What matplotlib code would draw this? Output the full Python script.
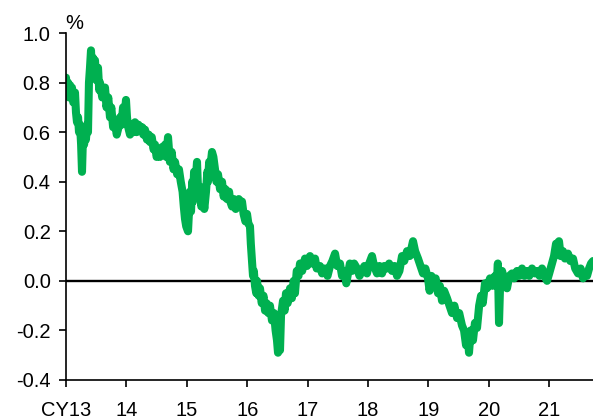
import numpy as np
import matplotlib.pyplot as plt

plt.rcParams['font.family'] = ['Liberation Sans', 'DejaVu Sans']

# years since start of CY13, and value in %
t_off = [0.000, 0.015, 0.033, 0.05, 0.066, 0.085, 0.099, 0.12, 0.149, 0.165, 0.182, 0.2, 0.215, 0.232, 0.25,
         0.265, 0.281, 0.30, 0.315, 0.33, 0.35, 0.364, 0.38, 0.397, 0.414, 0.43, 0.447, 0.46, 0.48, 0.50,
         0.53, 0.55, 0.563, 0.6, 0.646, 0.67, 0.70, 0.728, 0.75, 0.78, 0.811, 0.84, 0.87, 0.894, 0.92,
         0.944, 0.97, 0.993, 1.01, 1.03, 1.06, 1.09, 1.12, 1.142, 1.17, 1.2, 1.225, 1.26, 1.28, 1.308,
         1.34, 1.37, 1.391, 1.42, 1.45, 1.473, 1.50, 1.53, 1.556, 1.59, 1.62, 1.64, 1.66, 1.689, 1.72,
         1.75, 1.78, 1.805, 1.84, 1.87, 1.9, 1.93, 1.95, 1.97, 1.99, 2.02, 2.04, 2.053, 2.07, 2.09,
         2.103, 2.12, 2.14, 2.169, 2.19, 2.219, 2.24, 2.268, 2.29, 2.318, 2.34, 2.351, 2.37, 2.39, 2.417,
         2.44, 2.467, 2.49, 2.517, 2.55, 2.583, 2.61, 2.64, 2.666, 2.7, 2.72, 2.748, 2.78, 2.81, 2.831,
         2.86, 2.89, 2.914, 2.94, 2.97, 2.997, 3.02, 3.046, 3.06, 3.08, 3.096, 3.11, 3.129, 3.15, 3.162,
         3.19, 3.212, 3.24, 3.27, 3.295, 3.32, 3.35, 3.377, 3.41, 3.444, 3.47, 3.493, 3.51, 3.53, 3.543,
         3.56, 3.593, 3.62, 3.642, 3.67, 3.709, 3.74, 3.77, 3.791, 3.82, 3.85, 3.874, 3.91, 3.957, 3.99,
         4.04, 4.07, 4.123, 4.15, 4.205, 4.24, 4.288, 4.33, 4.371, 4.41, 4.454, 4.49, 4.536, 4.57, 4.619,
         4.64, 4.669, 4.70, 4.735, 4.77, 4.818, 4.86, 4.901, 4.94, 4.983, 5.02, 5.066, 5.1, 5.149, 5.19,
         5.232, 5.27, 5.315, 5.35, 5.397, 5.44, 5.48, 5.52, 5.563, 5.6, 5.646, 5.69, 5.745, 5.78, 5.828,
         5.87, 5.911, 5.95, 5.993, 6.02, 6.05, 6.076, 6.12, 6.159, 6.19, 6.225, 6.26, 6.308, 6.35, 6.391,
         6.43, 6.474, 6.51, 6.556, 6.59, 6.623, 6.65, 6.672, 6.70, 6.738, 6.77, 6.805, 6.84, 6.871, 6.9,
         6.937, 6.97, 7.02, 7.06, 7.103, 7.13, 7.15, 7.169, 7.19, 7.219, 7.26, 7.301, 7.34, 7.384, 7.42,
         7.467, 7.5, 7.55, 7.59, 7.632, 7.67, 7.715, 7.76, 7.798, 7.84, 7.881, 7.92, 7.964, 8.0, 8.046,
         8.08, 8.113, 8.14, 8.162, 8.19, 8.228, 8.26, 8.311, 8.35, 8.394, 8.43, 8.477, 8.52, 8.56, 8.6,
         8.626, 8.66, 8.692, 8.725]
vals = [0.82, 0.76, 0.80, 0.74, 0.79, 0.75, 0.78, 0.72, 0.76, 0.68, 0.64, 0.66, 0.60, 0.63, 0.55,
        0.44, 0.58, 0.55, 0.62, 0.57, 0.63, 0.60, 0.80, 0.86, 0.93, 0.84, 0.90, 0.82, 0.89, 0.81,
        0.86, 0.77, 0.80, 0.74, 0.78, 0.70, 0.74, 0.66, 0.70, 0.62, 0.64, 0.59, 0.62, 0.66, 0.63,
        0.70, 0.66, 0.73, 0.66, 0.62, 0.59, 0.63, 0.60, 0.64, 0.60, 0.63, 0.61, 0.62, 0.59, 0.61,
        0.57, 0.59, 0.56, 0.58, 0.53, 0.55, 0.50, 0.52, 0.50, 0.54, 0.51, 0.55, 0.50, 0.58, 0.48,
        0.52, 0.45, 0.48, 0.43, 0.45, 0.40, 0.36, 0.30, 0.25, 0.22, 0.20, 0.30, 0.36, 0.28, 0.40,
        0.32, 0.44, 0.38, 0.48, 0.34, 0.38, 0.30, 0.34, 0.29, 0.36, 0.44, 0.40, 0.48, 0.46, 0.52,
        0.50, 0.45, 0.40, 0.43, 0.37, 0.40, 0.34, 0.37, 0.33, 0.36, 0.32, 0.30, 0.33, 0.29, 0.31,
        0.33, 0.30, 0.32, 0.27, 0.24, 0.27, 0.23, 0.22, 0.15, 0.08, 0.02, 0.04, -0.02, -0.05, 0.00,
        -0.06, -0.03, -0.09, -0.06, -0.12, -0.09, -0.13, -0.10, -0.16, -0.13, -0.20, -0.24, -0.29, -0.22, -0.28,
        -0.14, -0.08, -0.12, -0.05, -0.09, -0.03, -0.07, 0.00, -0.05, 0.04, 0.02, 0.07, 0.04, 0.09, 0.06,
        0.10, 0.07, 0.09, 0.05, 0.06, 0.03, 0.05, 0.02, 0.06, 0.08, 0.11, 0.06, 0.07, 0.02, 0.04,
        -0.01, 0.03, 0.07, 0.04, 0.07, 0.05, 0.02, 0.04, 0.06, 0.03, 0.07, 0.10, 0.06, 0.03, 0.06,
        0.03, 0.06, 0.05, 0.07, 0.04, 0.06, 0.02, 0.04, 0.10, 0.08, 0.12, 0.10, 0.16, 0.12, 0.09,
        0.06, 0.03, 0.05, 0.01, -0.04, 0.02, -0.02, 0.01, -0.05, -0.02, -0.08, -0.04, -0.07, -0.10, -0.13,
        -0.10, -0.15, -0.13, -0.18, -0.20, -0.26, -0.22, -0.29, -0.20, -0.24, -0.17, -0.19, -0.10, -0.06, -0.09,
        -0.01, -0.03, 0.01, -0.02, 0.02, -0.02, 0.07, -0.17, 0.01, 0.04, 0.00, -0.03, 0.02, 0.03, 0.01,
        0.04, 0.02, 0.05, 0.02, 0.04, 0.02, 0.05, 0.03, 0.04, 0.02, 0.05, 0.02, 0.00, 0.03, 0.07,
        0.10, 0.15, 0.12, 0.16, 0.10, 0.12, 0.09, 0.11, 0.08, 0.09, 0.05, 0.03, 0.05, 0.01, 0.03,
        0.02, 0.05, 0.07, 0.08]

years = list(range(13, 22))
year_labels = ['CY13'] + [str(y) for y in years[1:]]

t = 13 + np.array(t_off)

fig = plt.figure(figsize=(5.93, 4.19), dpi=100)
ax = fig.add_axes([0.1113, 0.0931, 0.8887, 0.8281])

ax.axhline(0, color='black', lw=1.7, zorder=1)
ax.plot(t, vals, color='#00B050', lw=5.8, solid_joinstyle='round', solid_capstyle='round', zorder=2)

ax.set_xlim(13, 13 + 8.725)
ax.set_ylim(-0.4, 1.0)
ax.set_yticks(np.arange(-0.4, 1.01, 0.2))
ax.set_yticklabels(['%.1f' % v for v in np.arange(-0.4, 1.01, 0.2)])
ax.set_xticks(years)
ax.set_xticklabels(year_labels)

for s in ['top', 'right']:
    ax.spines[s].set_visible(False)
for s in ['left', 'bottom']:
    ax.spines[s].set_linewidth(1.2)
ax.tick_params(axis='y', direction='out', length=5, width=1.2, labelsize=14.5, pad=6)
ax.tick_params(axis='x', direction='out', length=5, width=1.2, labelsize=14.5, pad=10)

fig.text(0.125, 0.945, '%', fontsize=14.5, ha='center', va='center')

fig.savefig('out.png', dpi=100)
